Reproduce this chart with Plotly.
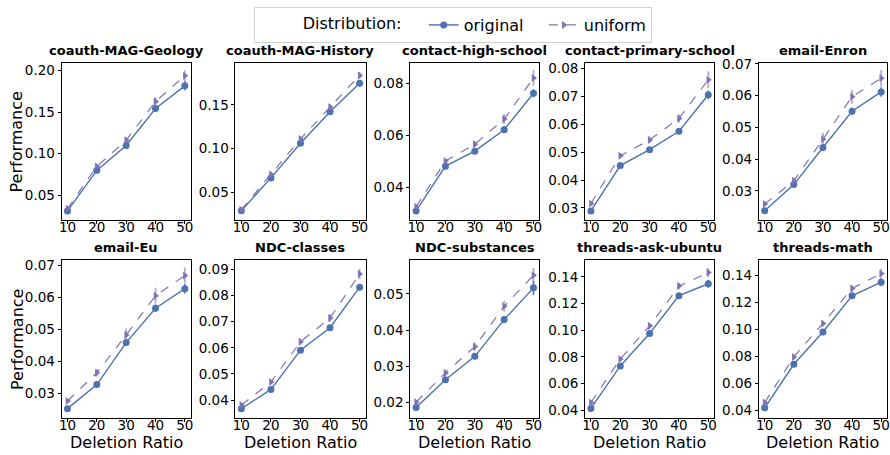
import plotly.graph_objects as go

# Deletion ratios (x) and the ten datasets
ratios = [10, 20, 30, 40, 50]
datasets = [
    "coauth-MAG-Geology", "coauth-MAG-History", "contact-high-school",
    "contact-primary-school", "email-Enron",
    "email-Eu", "NDC-classes", "NDC-substances",
    "threads-ask-ubuntu", "threads-math",
]

# Mean performance per dataset, one row per dataset
original = [
    [0.0311, 0.0799, 0.1098, 0.1543, 0.1815],
    [0.0286, 0.0662, 0.1060, 0.1421, 0.1748],
    [0.0308, 0.0481, 0.0539, 0.0622, 0.0763],
    [0.0289, 0.0452, 0.0509, 0.0575, 0.0706],
    [0.0238, 0.0320, 0.0437, 0.0551, 0.0612],
    [0.0253, 0.0328, 0.0459, 0.0566, 0.0627],
    [0.0367, 0.0441, 0.0591, 0.0677, 0.0832],
    [0.0185, 0.0262, 0.0327, 0.0429, 0.0517],
    [0.0412, 0.0731, 0.0975, 0.1259, 0.1348],
    [0.0422, 0.0744, 0.0983, 0.1251, 0.1351],
]
uniform = [
    [0.0339, 0.0846, 0.1161, 0.1626, 0.1937],
    [0.0297, 0.0703, 0.1109, 0.1474, 0.1838],
    [0.0324, 0.0501, 0.0566, 0.0663, 0.0822],
    [0.0316, 0.0487, 0.0544, 0.0621, 0.0760],
    [0.0259, 0.0332, 0.0463, 0.0597, 0.0655],
    [0.0277, 0.0365, 0.0483, 0.0605, 0.0668],
    [0.0381, 0.0469, 0.0623, 0.0714, 0.0882],
    [0.0200, 0.0281, 0.0354, 0.0466, 0.0552],
    [0.0457, 0.0783, 0.1032, 0.1331, 0.1432],
    [0.0461, 0.0798, 0.1046, 0.1305, 0.1415],
]

# Standard deviations (error bars)
original_err = [
    [0.0015, 0.0025, 0.0030, 0.0040, 0.0055],
    [0.0012, 0.0020, 0.0025, 0.0030, 0.0035],
    [0.0005, 0.0006, 0.0008, 0.0012, 0.0015],
    [0.0004, 0.0006, 0.0008, 0.0010, 0.0015],
    [0.0004, 0.0006, 0.0010, 0.0012, 0.0015],
    [0.0004, 0.0006, 0.0010, 0.0012, 0.0015],
    [0.0005, 0.0006, 0.0008, 0.0010, 0.0012],
    [0.0005, 0.0006, 0.0008, 0.0010, 0.0020],
    [0.0010, 0.0015, 0.0018, 0.0020, 0.0030],
    [0.0010, 0.0015, 0.0018, 0.0020, 0.0030],
]
uniform_err = [
    [0.0020, 0.0030, 0.0040, 0.0050, 0.0065],
    [0.0015, 0.0025, 0.0030, 0.0035, 0.0040],
    [0.0006, 0.0008, 0.0012, 0.0020, 0.0030],
    [0.0005, 0.0010, 0.0012, 0.0015, 0.0030],
    [0.0005, 0.0010, 0.0020, 0.0022, 0.0026],
    [0.0005, 0.0012, 0.0020, 0.0025, 0.0025],
    [0.0006, 0.0008, 0.0012, 0.0015, 0.0020],
    [0.0006, 0.0010, 0.0012, 0.0015, 0.0020],
    [0.0012, 0.0018, 0.0020, 0.0025, 0.0035],
    [0.0012, 0.0018, 0.0020, 0.0025, 0.0035],
]

# Axis extents and tick spacing for each panel
y_ranges = [
    [0.0200, 0.2090], [0.0177, 0.1980], [0.0272, 0.0880], [0.0256, 0.0820], [0.0208, 0.0703],
    [0.0225, 0.0715], [0.0333, 0.0934], [0.0157, 0.0593], [0.0343, 0.1523], [0.0349, 0.1512],
]
y_dticks = [0.05, 0.05, 0.02, 0.01, 0.01, 0.01, 0.01, 0.01, 0.02, 0.02]

W, H = 890, 455
FONT = "DejaVu Sans"
BLUE = "#4C72B0"
PURPLE = "#8172B3"

col_px = [(59, 189), (234, 365), (410, 540), (586, 716), (761, 890)]
row_px = [(57, 217), (258, 418)]

fig = go.Figure()
layout = {}
annotations = []

for i, name in enumerate(datasets):
    r, c = divmod(i, 5)
    ax = "" if i == 0 else str(i + 1)
    x0, x1 = col_px[c]
    y0, y1 = row_px[r]
    xdom = [x0 / W, x1 / W]
    ydom = [(H - y1) / H, (H - y0) / H]

    axis_common = dict(
        showline=True, linecolor="black", linewidth=1, mirror=True,
        ticks="outside", ticklen=3, tickwidth=1, tickcolor="black",
        showgrid=False, zeroline=False,
        tickfont=dict(family=FONT, size=13.5, color="black"),
    )
    layout["xaxis" + ax] = dict(
        axis_common, domain=xdom, anchor="y" + ax, range=[8, 52],
        tickvals=ratios, ticktext=[str(v) for v in ratios],
        ticklabelstandoff=-8, ticklabeloverflow="allow",
    )
    layout["yaxis" + ax] = dict(
        axis_common, domain=ydom, anchor="x" + ax, range=y_ranges[i],
        dtick=y_dticks[i], tick0=0, tickformat=".2f",
    )

    fig.add_trace(go.Scatter(
        x=ratios, y=original[i], xaxis="x" + ax, yaxis="y" + ax,
        mode="lines+markers", name="original\u00a0\u00a0\u00a0",
        legendgroup="original", showlegend=(i == 0),
        line=dict(color=BLUE, width=1.4),
        marker=dict(symbol="circle", size=7, color=BLUE),
        error_y=dict(type="data", array=original_err[i], width=0,
                     thickness=1.5, color=BLUE),
    ))
    fig.add_trace(go.Scatter(
        x=ratios, y=uniform[i], xaxis="x" + ax, yaxis="y" + ax,
        mode="lines+markers", name="uniform",
        legendgroup="uniform", showlegend=(i == 0),
        line=dict(color=PURPLE, width=1.2, dash="dash"),
        marker=dict(symbol="triangle-right", size=7, color=PURPLE),
        error_y=dict(type="data", array=uniform_err[i], width=0,
                     thickness=1.8, color="rgba(129,114,179,0.6)"),
    ))

    annotations.append(dict(
        text=f"<b>{name}</b>", x=(xdom[0] + xdom[1]) / 2, y=ydom[1],
        xref="paper", yref="paper", xanchor="center", yanchor="bottom",
        yshift=3, showarrow=False,
        font=dict(family=FONT, size=13, color="black"),
    ))

# Shared axis titles
for r in range(2):
    y0, y1 = row_px[r]
    annotations.append(dict(
        text="Performance", x=14 / W, y=(H - (y0 + y1) / 2) / H,
        xref="paper", yref="paper", xanchor="center", yanchor="middle",
        textangle=-90, showarrow=False,
        font=dict(family=FONT, size=16, color="black"),
    ))
for c in range(5):
    x0, x1 = col_px[c]
    annotations.append(dict(
        text="Deletion Ratio", x=(x0 + x1) / 2 / W, y=(H - 443) / H,
        xref="paper", yref="paper", xanchor="center", yanchor="middle",
        showarrow=False, font=dict(family=FONT, size=16, color="black"),
    ))

fig.update_layout(
    **layout,
    annotations=annotations,
    width=W, height=H,
    margin=dict(l=0, r=0, t=0, b=0),
    paper_bgcolor="white", plot_bgcolor="white",
    font=dict(family=FONT, color="black"),
    legend=dict(
        orientation="h", x=0.509, xanchor="center", y=1.0, yanchor="top",
        title=dict(text="\u00a0\u00a0\u00a0\u00a0\u00a0\u00a0\u00a0\u00a0\u00a0Distribution:\u00a0\u00a0\u00a0",
                   side="left", font=dict(family=FONT, size=16)),
        font=dict(family=FONT, size=16, color="black"),
        bordercolor="#d0d0d0", borderwidth=1, bgcolor="white",
        itemwidth=30,
    ),
)

fig.write_html("out.html")
